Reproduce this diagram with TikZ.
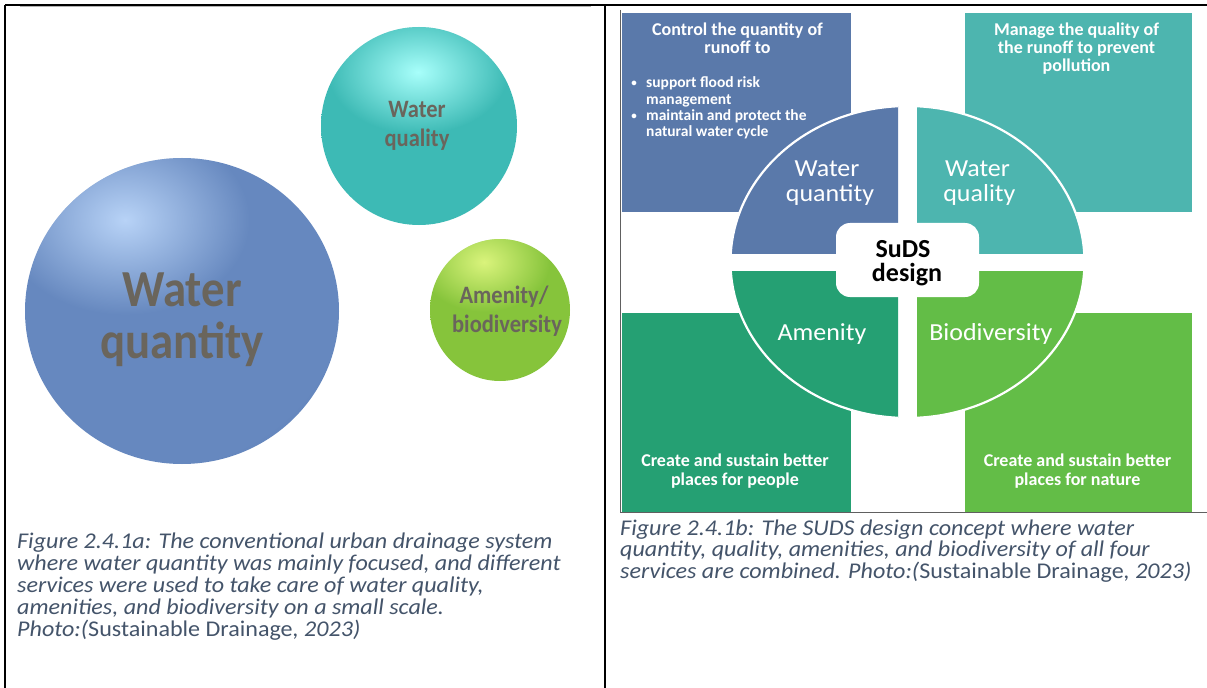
\documentclass[tikz,border=0pt]{standalone}
\usepackage{fontspec}
\setmainfont{Carlito}
\newfontfamily\sphfont[FakeStretch=0.9]{Carlito}
\newfontfamily\capfont[FakeStretch=1.07]{Carlito}
\newfontfamily\lblfont[FakeStretch=1.06]{Carlito}
\usetikzlibrary{fadings}

% caption and label colours
\definecolor{capcol}{HTML}{44546A}
\definecolor{sphtext}{HTML}{6A655C}
% SuDS quadrant colours
\definecolor{qblue}{HTML}{5A79AA}
\definecolor{qteal}{HTML}{4DB5AF}
\definecolor{qdkgreen}{HTML}{25A073}
\definecolor{qgreen}{HTML}{63BD47}
% sphere colours
\definecolor{bMid}{HTML}{6688BF}
\definecolor{bDeep}{HTML}{5474AA}
\definecolor{bRim}{HTML}{3C5689}
\definecolor{bHi}{HTML}{B8D3F7}
\definecolor{tMid}{HTML}{3DBAB5}
\definecolor{tDeep}{HTML}{2FA3A0}
\definecolor{tRim}{HTML}{1E7F80}
\definecolor{tHi}{HTML}{A8FFFB}
\definecolor{gMid}{HTML}{86C43B}
\definecolor{gDeep}{HTML}{6DAA2B}
\definecolor{gRim}{HTML}{4C841C}
\definecolor{gHi}{HTML}{DAF47C}

\pgfdeclareradialshading{ballblue}{\pgfpoint{-5bp}{6bp}}{color(0bp)=(bMid); color(28bp)=(bMid); color(44bp)=(bDeep); color(53bp)=(bRim); color(60bp)=(bRim)}
\pgfdeclareradialshading{ballteal}{\pgfpoint{-3bp}{6bp}}{color(0bp)=(tMid); color(28bp)=(tMid); color(44bp)=(tDeep); color(53bp)=(tRim); color(60bp)=(tRim)}
\pgfdeclareradialshading{ballgreen}{\pgfpoint{-5bp}{6bp}}{color(0bp)=(gMid); color(28bp)=(gMid); color(44bp)=(gDeep); color(53bp)=(gRim); color(60bp)=(gRim)}
\tikzfading[name=glow, inner color=transparent!0, outer color=transparent!100]

\tikzset{
  quadbox/.style={draw=none, inner sep=0, outer sep=0, minimum height=199bp},
  boxtxt/.style={font={\fontsize{18bp}{18bp}\selectfont\bfseries}, text=white, anchor=base, inner sep=0},
  bultxt/.style={font={\fontsize{15.5bp}{16bp}\selectfont\bfseries}, text=white, anchor=base west, inner sep=0},
  bulmark/.style={font={\fontsize{11bp}{12bp}\selectfont\bfseries}, text=white, anchor=base, inner sep=0},
  quadlbl/.style={font={\lblfont\fontsize{24.5bp}{28bp}\selectfont}, text=white, anchor=base, inner sep=0},
  coretxt/.style={font={\fontsize{26bp}{27bp}\selectfont\bfseries}, text=black, anchor=base, inner sep=0},
  captxt/.style={font={\capfont\itshape\fontsize{22.5bp}{22bp}\selectfont}, text=capcol, anchor=base west, inner sep=0},
  sphbig/.style={font={\sphfont\bfseries\fontsize{52bp}{52bp}\selectfont}, text=sphtext, anchor=base, inner sep=0},
  sphsmall/.style={font={\sphfont\bfseries\fontsize{25bp}{25bp}\selectfont}, text=sphtext, anchor=base, inner sep=0},
}

\begin{document}
\begin{tikzpicture}[x=1bp, y=-1bp]
\useasboundingbox (0,0) rectangle (1207,688);
\fill[white] (0,0) rectangle (1207,688);

% ---------- table rules ----------
\draw[line width=1.6bp] (5,5) -- (1207,5);
\draw[line width=1.6bp] (5,5) -- (5,688);
\draw[line width=1.6bp] (605,5) -- (605,688);
\draw[gray!60, line width=1bp] (20,7) -- (591,7);

% ---------- left picture: three spheres ----------
\begin{scope}
  \clip (182,311) ellipse (157 and 153);
  \shade[shading=ballblue] (182,311) ellipse (157 and 153);
  \fill[bHi, path fading=glow] (125,220) ellipse (125 and 95);
\end{scope}
\begin{scope}
  \clip (419,126) ellipse (98 and 99);
  \shade[shading=ballteal] (419,126) ellipse (98 and 99);
  \fill[tHi, path fading=glow] (418,72) ellipse (90 and 62);
\end{scope}
\begin{scope}
  \clip (500,310) ellipse (70 and 71);
  \shade[shading=ballgreen] (500,310) ellipse (70 and 71);
  \fill[gHi, path fading=glow] (484,262) ellipse (66 and 50);
\end{scope}

\node[sphbig] (qtyA) at (182,306) {Water};
\node[sphbig] (qtyB) at (182,358) {quantity};
\node[sphsmall] (qualA) at (417,118) {Water};
\node[sphsmall] (qualB) at (417,147) {quality};
\begin{scope}
  \clip (500,310) ellipse (71 and 72);
  \node[sphsmall] (ameA) at (504,303) {Amenity/};
  \node[sphsmall] (ameB) at (507,332) {biodiversity};
\end{scope}

% ---------- right picture: SuDS design ----------
\node[quadbox, fill=qblue, minimum width=229.5bp] (boxqty) at (736.25,112.5) {};
\node[quadbox, fill=qteal, minimum width=227bp] (boxqual) at (1078.5,112.5) {};
\node[quadbox, fill=qdkgreen, minimum width=229.5bp] (boxame) at (736.25,412.5) {};
\node[quadbox, fill=qgreen, minimum width=227bp] (boxbio) at (1078.5,412.5) {};

% quarter discs, each cut from one ellipse
\begin{scope}
  \clip (700,90) rectangle (898,253);
  \fill[qblue] (907.5,262) ellipse (177 and 156);
  \draw[white, line width=2.2bp] (907.5,262) ellipse (177 and 156);
\end{scope}
\begin{scope}
  \clip (917,90) rectangle (1110,253);
  \fill[qteal] (907.5,262) ellipse (177 and 156);
  \draw[white, line width=2.2bp] (907.5,262) ellipse (177 and 156);
\end{scope}
\begin{scope}
  \clip (700,271) rectangle (898,440);
  \fill[qdkgreen] (907.5,262) ellipse (177 and 156);
  \draw[white, line width=2.2bp] (907.5,262) ellipse (177 and 156);
\end{scope}
\begin{scope}
  \clip (917,271) rectangle (1110,440);
  \fill[qgreen] (907.5,262) ellipse (177 and 156);
  \draw[white, line width=2.2bp] (907.5,262) ellipse (177 and 156);
\end{scope}

\node[fill=white, rounded corners=14bp, minimum width=143bp, minimum height=74bp, inner sep=0] (core) at (907.5,260) {};
\node[coretxt] (coreA) at (903,257) {SuDS};
\node[coretxt] (coreB) at (907,281.5) {design};

% picture frame
\draw[gray!75!black, line width=1bp] (620.5,10) -- (620.5,512) -- (1207,512);

% box texts
\node[boxtxt] (tqA) at (737.5,35.3) {Control the quantity of};
\node[boxtxt] (tqB) at (737.5,53.8) {runoff to};
\node[bulmark] (bulA) at (634,87) {•};
\node[bultxt] (bqA) at (646,88) {support flood risk};
\node[bultxt] (bqB) at (646,104.3) {management};
\node[bulmark] (bulB) at (634,119.6) {•};
\node[bultxt] (bqC) at (646,120.6) {maintain and protect the};
\node[bultxt] (bqD) at (646,137) {natural water cycle};

\node[boxtxt] (tlA) at (1076.5,35.3) {Manage the quality of};
\node[boxtxt] (tlB) at (1076.5,53.6) {the runoff to prevent};
\node[boxtxt] (tlC) at (1076.5,71.9) {pollution};

\node[boxtxt] (taA) at (735,466.7) {Create and sustain better};
\node[boxtxt] (taB) at (735,485) {places for people};
\node[boxtxt] (tbA) at (1077.5,466.7) {Create and sustain better};
\node[boxtxt] (tbB) at (1077.5,485) {places for nature};

% quarter labels
\node[quadlbl] (lqA) at (827,177) {Water};
\node[quadlbl] (lqB) at (830,202) {quantity};
\node[quadlbl] (llA) at (977.5,177) {Water};
\node[quadlbl] (llB) at (979.4,202) {quality};
\node[quadlbl] (lame) at (822,340) {Amenity};
\node[quadlbl] (lbio) at (990.8,340) {Biodiversity};

% ---------- captions ----------
\node[captxt] (capA1) at (17,548) {Figure 2.4.1a: The conventional urban drainage system};
\node[captxt] (capA2) at (17,570) {where water quantity was mainly focused, and different};
\node[captxt] (capA3) at (17,592) {services were used to take care of water quality,};
\node[captxt] (capA4) at (17,614) {amenities, and biodiversity on a small scale.};
\node[captxt] (capA5) at (17,636) {Photo:(\upshape Sustainable Drainage\itshape, 2023)};

\node[captxt] (capB1) at (620,535) {Figure 2.4.1b: The SUDS design concept where water};
\node[captxt] (capB2) at (620,556.7) {quantity, quality, amenities, and biodiversity of all four};
\node[captxt] (capB3) at (620,578.4) {services are combined. Photo:(\upshape Sustainable Drainage\itshape, 2023)};
\end{tikzpicture}
\end{document}
